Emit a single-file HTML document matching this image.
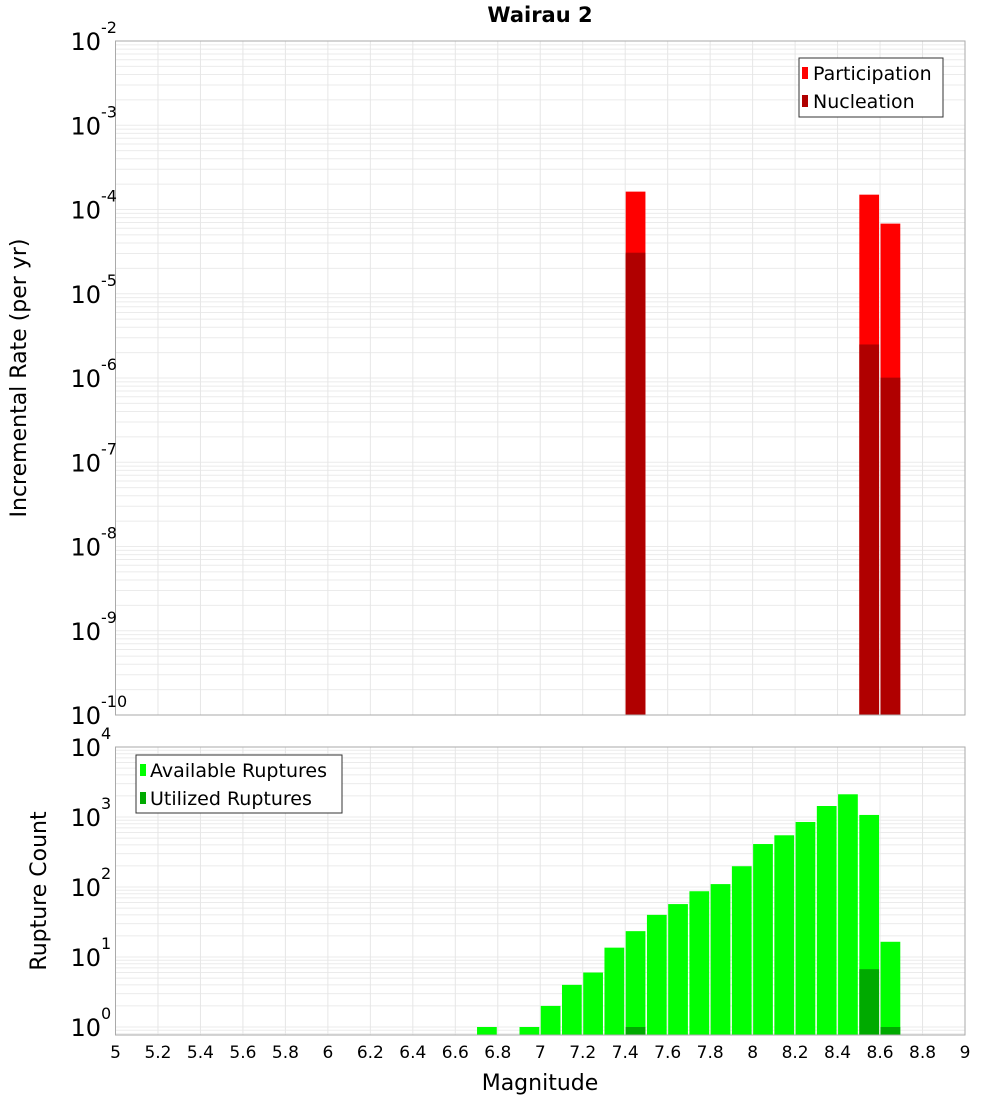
<!DOCTYPE html>
<html><head><meta charset="utf-8"><style>
body{margin:0;background:#fff}
svg text{font-family:"DejaVu Sans","Liberation Sans",sans-serif}
</style></head><body>
<svg id="chart" width="1000" height="1100" xmlns="http://www.w3.org/2000/svg">
<text x="540" y="22" text-anchor="middle" font-size="21" font-weight="bold">Wairau 2</text>
<g id="topPanel"></g>
<g id="botPanel"></g>
<text transform="translate(26,378) rotate(-90)" text-anchor="middle" font-size="22">Incremental Rate (per yr)</text>
<text transform="translate(46,891) rotate(-90)" text-anchor="middle" font-size="22">Rupture Count</text>
<text x="540" y="1090" text-anchor="middle" font-size="22">Magnitude</text>
<g>
<rect x="799" y="58" width="144" height="59" fill="#fff" stroke="#333" stroke-width="1"/>
<rect x="802" y="67" width="6" height="12" fill="#ff0000"/>
<text x="813" y="80" font-size="19">Participation</text>
<rect x="802" y="95" width="6" height="12" fill="#b00000"/>
<text x="813" y="108" font-size="19">Nucleation</text>
</g>
<g>
<rect x="136" y="755" width="206" height="58" fill="#fff" stroke="#333" stroke-width="1"/>
<rect x="140" y="764" width="6" height="12" fill="#00ff00"/>
<text x="150" y="777" font-size="19">Available Ruptures</text>
<rect x="140" y="792" width="6" height="12" fill="#00aa00"/>
<text x="150" y="805" font-size="19">Utilized Ruptures</text>
</g>
</svg>
<script>
const rateMags=[7.45,8.55,8.65];
const participation=[1.63e-4,1.5e-4,6.8e-5];
const nucleation=[3.07e-5,2.5e-6,1.01e-6];
const countMags=[6.75,6.95,7.05,7.15,7.25,7.35,7.45,7.55,7.65,7.75,7.85,7.95,8.05,8.15,8.25,8.35,8.45,8.55,8.65];
const available=[1,1,2,4,6,13.6,23.4,40,57,87,110,198,411,548,849,1436,2110,1070,16.5];
const utilizedMags=[7.45,8.55,8.65];
const utilized=[1,6.7,1];
const xTicks=[5,5.2,5.4,5.6,5.8,6,6.2,6.4,6.6,6.8,7,7.2,7.4,7.6,7.8,8,8.2,8.4,8.6,8.8,9];
const topExps=[-2,-3,-4,-5,-6,-7,-8,-9,-10];
const botExps=[4,3,2,1,0];

const NS="http://www.w3.org/2000/svg";
const L=115.5,R=965;
const xs=m=>L+(m-5)/4*(R-L);
const yTop=v=>41+(-2-Math.log10(v))*(715-41)/8;
const yBot=v=>747+(4-Math.log10(v))*70;
function mk(p,t,a){const e=document.createElementNS(NS,t);for(const k in a)e.setAttribute(k,a[k]);p.appendChild(e);return e;}
function panel(g,y0,y1,yf,eMin,eMax){
  mk(g,'rect',{x:L,y:y0,width:R-L,height:y1-y0,fill:'#fff'});
  for(let e=eMin-1;e<=eMax;e++)for(let k=1;k<10;k++){const y=yf(k*Math.pow(10,e));if(y>y0&&y<y1){const l=mk(g,'line',{x1:L,x2:R,y1:y,y2:y,stroke:'#ebebeb','stroke-width':1});

}}
  xTicks.forEach(t=>{const x=xs(t);const l=mk(g,'line',{x1:x,x2:x,y1:y0,y2:y1,stroke:'#e6e6e6','stroke-width':1});

});
}
function frame(g,y0,y1){const r=mk(g,'rect',{x:L,y:y0,width:R-L,height:y1-y0,fill:'none',stroke:'#aaa','stroke-width':1});

}
function bar(g,m,v,yf,base,color,name){const x=xs(m-0.05)+0.5,w=xs(m+0.05)-xs(m-0.05)-1.5;const y=yf(v);const r=mk(g,'rect',{x:x,y:y,width:w,height:base-y,fill:color});

}
function ylabel(g,e,y){const t=mk(g,'text',{x:101,y:y+9,'text-anchor':'end','font-size':24});


t.textContent='10';const s=mk(g,'text',{x:101,y:y-8,'font-size':16});


s.textContent=String(e);}

const topG=document.getElementById('topPanel'),botG=document.getElementById('botPanel');
panel(topG,41,715,yTop,-10,-2);
rateMags.forEach((m,i)=>{bar(topG,m,participation[i],yTop,715,'#ff0000','participation-bar');bar(topG,m,nucleation[i],yTop,715,'#b00000','nucleation-bar');});
frame(topG,41,715);
topExps.forEach(e=>ylabel(topG,e,yTop(Math.pow(10,e))));
panel(botG,747,1035,yBot,0,4);
countMags.forEach((m,i)=>bar(botG,m,available[i],yBot,1035,'#00ff00','available-bar'));
utilizedMags.forEach((m,i)=>bar(botG,m,utilized[i],yBot,1035,'#00aa00','utilized-bar'));
frame(botG,747,1035);
botExps.forEach(e=>ylabel(botG,e,yBot(Math.pow(10,e))));
xTicks.forEach(t=>{const tx=mk(botG,'text',{x:xs(t),y:1058,'text-anchor':'middle','font-size':17});


tx.textContent=String(t);});
</script>
</body></html>
